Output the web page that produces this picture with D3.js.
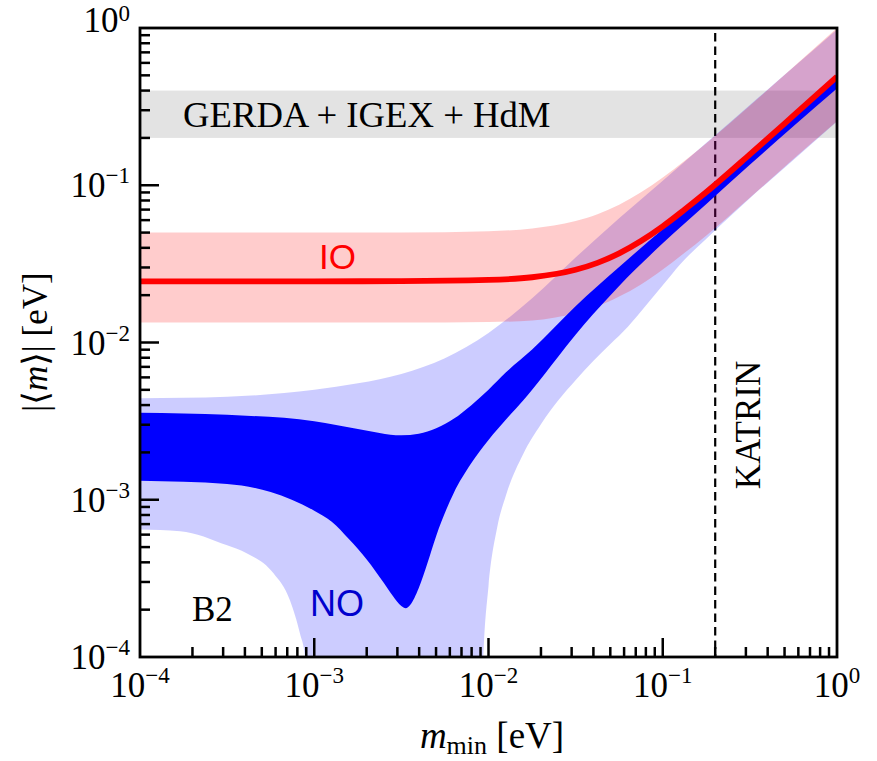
<!DOCTYPE html>
<html>
<head>
<meta charset="utf-8">
<script src="https://cdn.jsdelivr.net/npm/d3@7"></script>
<style>
  html, body { margin: 0; padding: 0; background: #fff; }
  svg { display: block; }
</style>
</head>
<body>
<svg id="chart" width="877" height="761"></svg>
<script>
// ---------------- DATA ----------------
// x positions are m_min [eV], y values are |<m>| [eV]
const xTickValues = [1e-4, 1e-3, 1e-2, 1e-1, 1];
const xTickExponents = ["−4", "−3", "−2", "−1", "0"];
const yTickValues = [1e-4, 1e-3, 1e-2, 1e-1, 1];
const yTickExponents = ["−4", "−3", "−2", "−1", "0"];

const gerdaBand = [0.2, 0.4];    // GERDA + IGEX + HdM limit band
const katrinLimit = 0.2;         // KATRIN vertical limit

// IO central curve (red line)
const ioCenterX = [1e-4, 3.16e-4, 1e-3, 3.16e-3, 1e-2, 1.78e-2, 3.16e-2, 4.22e-2, 5.62e-2, 7.5e-2, 0.1, 0.133, 0.178, 0.316, 0.562, 1];
const ioCenterY = [0.0245, 0.0245, 0.0245, 0.02455, 0.0250, 0.0260, 0.0290, 0.0321, 0.0369, 0.0442, 0.0548, 0.0698, 0.0905, 0.157, 0.277, 0.491];
// IO light band (upper / lower)
const ioBandX     = [1e-4, 3.16e-4, 1e-3, 3.16e-3, 1e-2, 1.78e-2, 3.16e-2, 4.22e-2, 5.62e-2, 7.5e-2, 0.1, 0.133, 0.178, 0.316, 0.562, 1];
const ioBandUpper = [0.0500, 0.0500, 0.0500, 0.0501, 0.0510, 0.0531, 0.0592, 0.0654, 0.0752, 0.0901, 0.112, 0.1425, 0.185, 0.320, 0.565, 1.0];
const ioBandLower = [0.0134, 0.0134, 0.0134, 0.0134, 0.0135, 0.0138, 0.0154, 0.0170, 0.0196, 0.0234, 0.0291, 0.0371, 0.0480, 0.0833, 0.147, 0.255];

// NO dark band (upper edge)
const noDarkUpperX = [1e-4, 3.16e-4, 1e-3, 1.78e-3, 3.16e-3, 3.98e-3, 5.01e-3, 6.31e-3, 7.94e-3, 1e-2, 1.26e-2, 1.78e-2, 3.16e-2, 5.62e-2, 0.1, 0.178, 0.316, 0.562, 1];
const noDarkUpperY = [3.58e-3, 3.47e-3, 3.16e-3, 2.82e-3, 2.57e-3, 2.63e-3, 2.85e-3, 3.27e-3, 3.98e-3, 5.01e-3, 6.46e-3, 9.02e-3, 1.70e-2, 3.02e-2, 5.25e-2, 8.91e-2, 0.153, 0.269, 0.473];
// NO dark band (lower edge)
const noDarkLowerX = [1e-4, 3.16e-4, 5.62e-4, 1e-3, 1.26e-3, 1.58e-3, 2.0e-3, 2.51e-3, 2.82e-3, 3.16e-3, 3.35e-3, 3.55e-3, 3.98e-3, 4.47e-3, 5.01e-3, 6.31e-3, 7.94e-3, 1e-2, 1.26e-2, 1.58e-2, 1.78e-2, 2.51e-2, 3.16e-2, 3.98e-2, 5.62e-2, 0.1, 0.178, 0.316, 0.562, 1];
const noDarkLowerY = [1.32e-3, 1.26e-3, 1.12e-3, 8.51e-4, 7.24e-4, 5.62e-4, 4.17e-4, 2.95e-4, 2.45e-4, 2.11e-4, 2.04e-4, 2.14e-4, 2.75e-4, 3.98e-4, 5.89e-4, 1.10e-3, 1.70e-3, 2.40e-3, 3.24e-3, 4.27e-3, 5.01e-3, 8.13e-3, 1.12e-2, 1.51e-2, 2.29e-2, 4.27e-2, 7.59e-2, 0.135, 0.237, 0.412];

// NO light band (upper edge)
const noLightUpperX = [1e-4, 3.16e-4, 1e-3, 1.78e-3, 3.16e-3, 5.62e-3, 1e-2, 1.78e-2, 3.16e-2, 5.62e-2, 0.1, 0.178, 0.316, 0.562, 1];
const noLightUpperY = [4.42e-3, 4.52e-3, 5.01e-3, 5.50e-3, 6.31e-3, 7.94e-3, 1.15e-2, 1.91e-2, 3.47e-2, 6.17e-2, 0.107, 0.186, 0.324, 0.562, 0.977];
// NO light band, lower edge, left branch (falls out of the frame near 9e-4)
const noLightLowerLeftX = [1e-4, 1.7e-4, 3.16e-4, 4.09e-4, 5.82e-4, 7.26e-4, 8.28e-4, 8.85e-4, 9.12e-4];
const noLightLowerLeftY = [6.46e-4, 6.31e-4, 5.13e-4, 4.57e-4, 3.42e-4, 2.29e-4, 1.41e-4, 1.0e-4, 6.3e-5];
// NO light band, lower edge, right branch (rises from the frame near 9.3e-3)
const noLightLowerRightX = [9.12e-3, 9.33e-3, 1e-2, 1.12e-2, 1.26e-2, 1.58e-2, 2.0e-2, 2.51e-2, 3.16e-2, 3.98e-2, 5.01e-2, 6.31e-2, 7.94e-2, 0.1, 0.126, 0.178, 0.251, 0.316, 0.562, 1];
const noLightLowerRightY = [5.0e-5, 1.0e-4, 2.82e-4, 6.61e-4, 1.07e-3, 1.95e-3, 3.02e-3, 4.27e-3, 5.75e-3, 7.59e-3, 9.77e-3, 1.26e-2, 1.70e-2, 2.31e-2, 3.15e-2, 4.57e-2, 6.53e-2, 8.26e-2, 0.145, 0.254];

// ---------------- LAYOUT ----------------
const svg = d3.select("#chart");
const L = 140, R = 837, T = 28, B = 657;
const x = d3.scaleLog().domain([1e-4, 1]).range([L, R]);
const y = d3.scaleLog().domain([1e-4, 1]).range([B, T]);

const serif = "'Liberation Serif', 'DejaVu Serif', serif";
const sans = "'Liberation Sans', Arial, sans-serif";

svg.append("defs").append("clipPath").attr("id", "plotclip")
  .append("rect").attr("x", L).attr("y", T).attr("width", R - L).attr("height", B - T);

const plot = svg.append("g").attr("clip-path", "url(#plotclip)");

const zip = (xs, ys) => xs.map((v, i) => [v, ys[i]]);
const line = d3.line().x(d => x(d[0])).y(d => y(d[1])).curve(d3.curveMonotoneX);
const join = (...parts) => parts.map((p, i) => {
  const s = line(p);
  return i === 0 ? s : s.replace(/^M/, "L");
}).join("") + "Z";

// GERDA band
plot.append("rect")
  .attr("x", L).attr("width", R - L)
  .attr("y", y(gerdaBand[1])).attr("height", y(gerdaBand[0]) - y(gerdaBand[1]))
  .attr("fill", "#e3e3e3");

// KATRIN dashed
plot.append("line")
  .attr("x1", x(katrinLimit)).attr("x2", x(katrinLimit))
  .attr("y1", T + 5).attr("y2", B)
  .attr("stroke", "#000").attr("stroke-width", 2.2)
  .attr("stroke-dasharray", "8.5,5");

// NO light band
plot.append("path")
  .attr("d", join(
    zip(noLightUpperX, noLightUpperY),
    zip(noLightLowerRightX, noLightLowerRightY).reverse(),
    zip(noLightLowerLeftX, noLightLowerLeftY).reverse()))
  .attr("fill", "#0000ff").attr("fill-opacity", 0.2);

// IO light band
plot.append("path")
  .attr("d", join(zip(ioBandX, ioBandUpper), zip(ioBandX, ioBandLower).reverse()))
  .attr("fill", "#ff0000").attr("fill-opacity", 0.2);

// NO dark band
plot.append("path")
  .attr("d", join(zip(noDarkUpperX, noDarkUpperY), zip(noDarkLowerX, noDarkLowerY).reverse()))
  .attr("fill", "#0000ff");

// IO line
plot.append("path")
  .attr("d", line(zip(ioCenterX, ioCenterY)))
  .attr("fill", "none").attr("stroke", "#ff0000").attr("stroke-width", 5.8);

// ---------------- AXES ----------------
const axisG = svg.append("g").attr("stroke", "#000").attr("stroke-width", 2.5);
const isMajor = v => Math.abs(Math.log10(v) - Math.round(Math.log10(v))) < 1e-9;

x.ticks().forEach(v => {
  if (v <= 1e-4 * 1.0001 || v >= 0.9999) return;
  const len = isMajor(v) ? 19 : 10;
  axisG.append("line").attr("x1", x(v)).attr("x2", x(v)).attr("y1", B).attr("y2", B - len);
});
y.ticks().forEach(v => {
  if (v <= 1e-4 * 1.0001 || v >= 0.9999) return;
  const len = isMajor(v) ? 19 : 10;
  axisG.append("line").attr("x1", L).attr("x2", L + len).attr("y1", y(v)).attr("y2", y(v));
});

svg.append("rect").attr("x", L).attr("y", T).attr("width", R - L).attr("height", B - T)
  .attr("fill", "none").attr("stroke", "#000").attr("stroke-width", 2.8);

// tick labels
const tickFont = 35, supFont = 23;
xTickValues.forEach((v, i) => {
  const t = svg.append("text").attr("x", x(v)).attr("y", B + 40)
    .attr("text-anchor", "middle").attr("font-family", serif).attr("font-size", tickFont);
  t.append("tspan").text("10");
  t.append("tspan").attr("dy", -14).attr("font-size", supFont).text(xTickExponents[i]);
});
yTickValues.forEach((v, i) => {
  const top = i === yTickValues.length - 1;
  const t = svg.append("text").attr("x", 130).attr("y", y(v) + (top ? 4 : 12))
    .attr("text-anchor", "end").attr("font-family", serif).attr("font-size", tickFont);
  t.append("tspan").text("10");
  t.append("tspan").attr("dy", top ? -11 : -14).attr("font-size", supFont).text(yTickExponents[i]);
});

// axis titles
const xl = svg.append("text").attr("x", 492).attr("y", 748).attr("text-anchor", "middle")
  .attr("font-family", serif).attr("font-size", 37);
xl.append("tspan").attr("font-style", "italic").text("m");
xl.append("tspan").attr("font-size", 26).attr("dy", 6).text("min");
xl.append("tspan").attr("dy", -6).text(" [eV]");

const yl = svg.append("text").attr("transform", "translate(47,342) rotate(-90)")
  .attr("text-anchor", "middle").attr("font-family", serif).attr("font-size", 35);
yl.append("tspan").text("|⟨");
yl.append("tspan").attr("font-style", "italic").text("m");
yl.append("tspan").text("⟩| [eV]");

// annotations
svg.append("text").attr("x", 183).attr("y", 127).attr("font-family", serif).attr("font-size", 36.7)
  .text("GERDA + IGEX + HdM");
svg.append("text").attr("x", 319).attr("y", 269).attr("font-family", sans).attr("font-size", 35)
  .attr("fill", "#ff0000").text("IO");
svg.append("text").attr("x", 310).attr("y", 616).attr("font-family", sans).attr("font-size", 36)
  .attr("fill", "#0000cd").text("NO");
svg.append("text").attr("x", 192).attr("y", 621).attr("font-family", serif).attr("font-size", 35)
  .text("B2");
svg.append("text").attr("transform", "translate(760,425) rotate(-90)")
  .attr("text-anchor", "middle").attr("font-family", serif).attr("font-size", 35)
  .text("KATRIN");
</script>
</body>
</html>
